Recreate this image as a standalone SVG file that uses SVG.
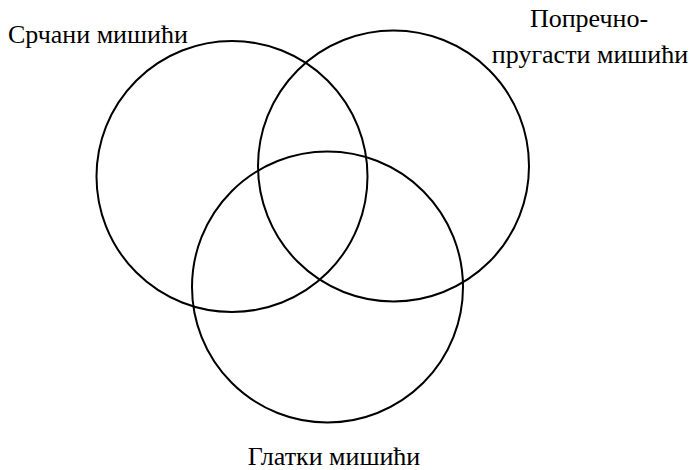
<svg xmlns="http://www.w3.org/2000/svg" width="692" height="470" viewBox="0 0 692 470">
<style>
.c{fill:none;stroke:#000;stroke-width:2}
</style>
<rect width="692" height="470" fill="#fff"/>
<g id="cardiac">
<circle class="c" cx="232" cy="176.5" r="135.5"/>
<text font-family="Times New Roman" font-size="26" x="8" y="43">Срчани мишићи</text>
</g>
<g id="striated">
<circle class="c" cx="393.5" cy="166" r="135.5"/>
<text font-family="Times New Roman" font-size="26" text-anchor="middle" x="589" y="27">Попречно-</text>
<text font-family="Times New Roman" font-size="26" text-anchor="middle" x="590" y="63">пругасти мишићи</text>
</g>
<g id="smooth">
<circle class="c" cx="327.5" cy="287" r="135.5"/>
<text font-family="Times New Roman" font-size="26" text-anchor="middle" x="334" y="465">Глатки мишићи</text>
</g>
<g id="connectors"/>
</svg>
